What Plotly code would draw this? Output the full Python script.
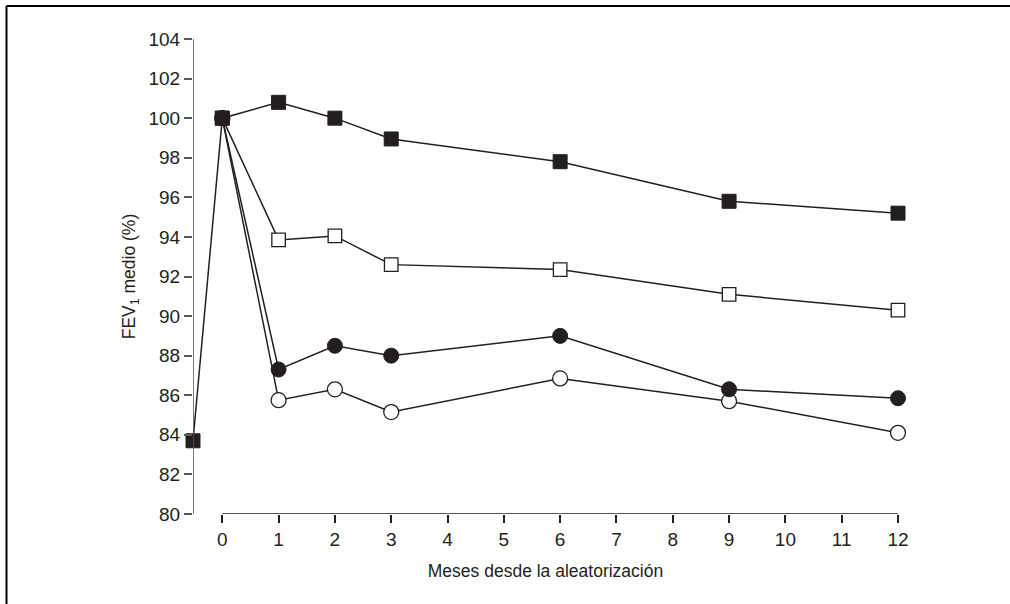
import plotly.graph_objects as go

# Data
months = [0, 1, 2, 3, 6, 9, 12]
baseline_x = -0.52
baseline_value = 83.7
filled_square = [100.0, 100.8, 100.0, 98.95, 97.8, 95.8, 95.2]
open_square = [100.0, 93.85, 94.05, 92.6, 92.35, 91.1, 90.3]
filled_circle = [100.0, 87.3, 88.5, 88.0, 89.0, 86.3, 85.85]
open_circle = [100.0, 85.75, 86.3, 85.15, 86.85, 85.7, 84.1]

y_ticks = list(range(80, 105, 2))
x_ticks = list(range(0, 13))

INK = "#231f20"
FONT = "Liberation Sans, Arial, sans-serif"

fig = go.Figure()

line_style = dict(color=INK, width=1.5)

fig.add_trace(go.Scatter(
    x=months, y=open_circle, mode="lines+markers", line=line_style,
    marker=dict(symbol="circle", size=15, color="white", line=dict(color=INK, width=1.3)),
    cliponaxis=False, showlegend=False))
fig.add_trace(go.Scatter(
    x=months, y=filled_circle, mode="lines+markers", line=line_style,
    marker=dict(symbol="circle", size=15, color=INK, line=dict(color=INK, width=1)),
    cliponaxis=False, showlegend=False))
fig.add_trace(go.Scatter(
    x=months, y=open_square, mode="lines+markers", line=line_style,
    marker=dict(symbol="square", size=13.5, color="white", line=dict(color=INK, width=1.3)),
    cliponaxis=False, showlegend=False))
fig.add_trace(go.Scatter(
    x=[baseline_x] + months, y=[baseline_value] + filled_square, mode="lines+markers", line=line_style,
    marker=dict(symbol="square", size=14, color=INK, line=dict(color=INK, width=1)),
    cliponaxis=False, showlegend=False))

# axis lines spanning only the tick ranges
fig.add_shape(type="line", xref="x", yref="y", x0=baseline_x, x1=baseline_x, y0=80, y1=104,
              line=dict(color="#58595b", width=1.6))
fig.add_shape(type="line", xref="x", yref="y", x0=0, x1=12, y0=80, y1=80,
              line=dict(color=INK, width=1.6))

# frame (top and left edges)
L, R, T, B = 193, 898, 39, 514
W, H = R - L, B - T
def px(x):
    return (x - L) / W
def py(y):
    return (B - y) / H
fig.add_shape(type="line", xref="paper", yref="paper", x0=px(6.5), x1=px(1012), y0=py(6), y1=py(6),
              line=dict(color="black", width=2))
fig.add_shape(type="line", xref="paper", yref="paper", x0=px(6.5), x1=px(6.5), y0=py(6), y1=py(606),
              line=dict(color="black", width=2))

fig.update_layout(
    width=1010, height=604,
    margin=dict(l=L, r=1010 - R, t=T, b=604 - B),
    paper_bgcolor="white", plot_bgcolor="white",
    font=dict(family=FONT, size=19, color=INK),
    xaxis=dict(range=[baseline_x, 12], tickmode="array", tickvals=x_ticks,
               ticks="outside", ticklen=8, tickwidth=1.5, tickcolor=INK,
               tickfont=dict(size=19),
               showline=False, showgrid=False, zeroline=False,
               title=dict(text="Meses desde la aleatorización", standoff=15,
                          font=dict(size=17.5))),
    yaxis=dict(range=[80, 104], tickmode="array", tickvals=y_ticks,
               ticks="outside", ticklen=8, tickwidth=1.5, tickcolor="#58595b",
               tickfont=dict(size=19),
               showline=False, showgrid=False, zeroline=False,
               title=dict(text="FEV<sub>1</sub> medio (%)", standoff=8,
                          font=dict(size=17.5))),
)

fig.write_html("out.html")
